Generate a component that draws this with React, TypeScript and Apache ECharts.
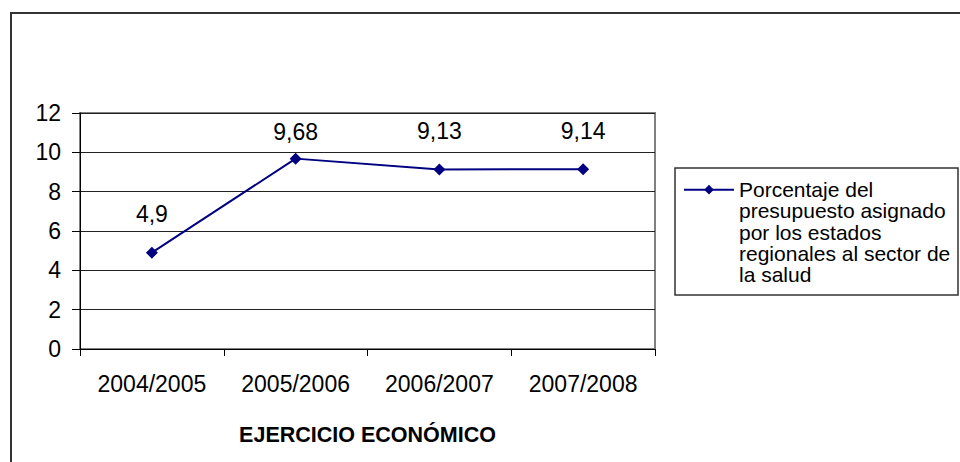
import React, { useEffect, useRef } from "react";
import * as echarts from "echarts";

const categories = ["2004/2005", "2005/2006", "2006/2007", "2007/2008"];
const values = [4.9, 9.68, 9.13, 9.14];
const yMin = 0;
const yMax = 12;
const yStep = 2;
const seriesName =
  "Porcentaje del\npresupuesto asignado\npor los estados\nregionales al sector de\nla salud";
const xAxisTitle = "EJERCICIO ECONÓMICO";

// label distances above each marker (styling only)
const labelGaps = [21, 9, 21, 21];

const FONT = "'Liberation Sans', Arial, sans-serif";

export default function App() {
  const ref = useRef<HTMLDivElement>(null);

  useEffect(() => {
    if (!ref.current) return;
    const chart = echarts.init(ref.current, null, { renderer: "svg" });
    chart.setOption({
      animation: false,
      backgroundColor: "#ffffff",
      textStyle: { fontFamily: FONT, color: "#000" },
      grid: {
        left: 80,
        top: 113,
        right: 305,
        bottom: 113,
        show: true,
        borderColor: "#808080",
        borderWidth: 2,
        backgroundColor: "transparent",
      },
      graphic: [
        {
          type: "rect",
          shape: { x: 11, y: 13, width: 1000, height: 500 },
          style: { fill: "none", stroke: "#333", lineWidth: 2 },
          z: 0,
          silent: true,
        },
        {
          type: "rect",
          shape: { x: 675, y: 168, width: 283, height: 127 },
          style: { fill: "none", stroke: "#333", lineWidth: 1.5 },
          z: 0,
          silent: true,
        },
      ],
      legend: {
        left: 683,
        top: 94,
        padding: 0,
        orient: "vertical",
        itemWidth: 50,
        itemHeight: 12,
        itemGap: 0,
        formatter: (name: string) => "\n\n\n\n" + name,
        textStyle: {
          fontFamily: FONT,
          fontSize: 21,
          color: "#000",
          lineHeight: 21.25,
        },
        data: [seriesName],
      },
      xAxis: {
        type: "category",
        data: categories,
        boundaryGap: true,
        axisLine: { show: true, lineStyle: { color: "#000", width: 1 } },
        axisTick: { show: true, length: 7, lineStyle: { color: "#000" } },
        axisLabel: { fontFamily: FONT, fontSize: 23, color: "#000", margin: 23 },
        splitLine: { show: false },
        name: xAxisTitle,
        nameLocation: "middle",
        nameGap: 75,
        nameTextStyle: {
          fontFamily: FONT,
          fontSize: 21.5,
          fontWeight: "bold",
          color: "#000",
        },
      },
      yAxis: {
        type: "value",
        min: yMin,
        max: yMax,
        interval: yStep,
        axisLine: { show: true, lineStyle: { color: "#000", width: 1 } },
        axisTick: { show: true, length: 8, lineStyle: { color: "#000" } },
        axisLabel: { fontFamily: FONT, fontSize: 23, color: "#000", margin: 19 },
        splitLine: { show: true, lineStyle: { color: "#222", width: 1 } },
      },
      series: [
        {
          name: seriesName,
          type: "line",
          data: values.map((v, i) => ({
            value: v,
            label: { distance: labelGaps[i] },
          })),
          symbol: "diamond",
          symbolSize: 12,
          lineStyle: { color: "#000080", width: 2 },
          itemStyle: { color: "#000080" },
          label: {
            show: true,
            position: "top",
            fontFamily: FONT,
            fontSize: 23,
            color: "#000",
            formatter: (p: any) => String(p.value).replace(".", ","),
          },
        },
      ],
    });
    return () => chart.dispose();
  }, []);

  return (
    <div
      ref={ref}
      style={{ position: "absolute", left: 0, top: 0, width: 960, height: 462 }}
    />
  );
}
